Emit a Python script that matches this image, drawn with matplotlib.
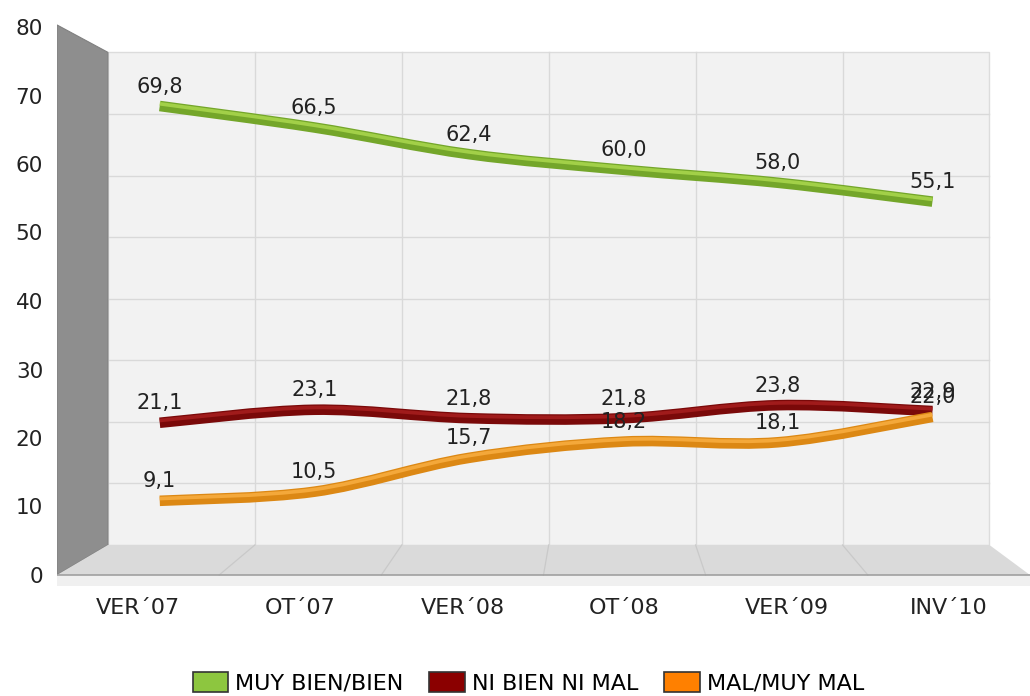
import numpy as np
import matplotlib
matplotlib.use("Agg")
import matplotlib.pyplot as plt
from matplotlib.transforms import Affine2D, ScaledTranslation
from matplotlib.path import Path
from matplotlib.patches import PathPatch, Polygon, Patch, Rectangle

# ---------------- data ----------------
categories = ["VER´07", "OT´07", "VER´08", "OT´08", "VER´09", "INV´10"]
muy_bien = [69.8, 66.5, 62.4, 60.0, 58.0, 55.1]
ni_bien_ni_mal = [21.1, 23.1, 21.8, 21.8, 23.8, 22.9]
mal_muy_mal = [9.1, 10.5, 15.7, 18.2, 18.1, 22.0]
series_names = ["MUY BIEN/BIEN", "NI BIEN NI MAL", "MAL/MUY MAL"]
y_ticks = [0, 10, 20, 30, 40, 50, 60, 70, 80]

plt.rcParams['font.family'] = ['DejaVu Sans']

W, H = 1030, 696
fig = plt.figure(figsize=(W / 100, H / 100), dpi=100)
fig.patch.set_facecolor('white')

# axes geometry (front plane of the 3D box)
x0px, x1px = 57, 1030
ylo, yhi = -3.0, 80.5
ppu = 6.85
zero_py = 575
bottom_py = zero_py - ylo * ppu
top_py = zero_py - yhi * ppu
ax = fig.add_axes([x0px / W, 1 - bottom_py / H, (x1px - x0px) / W, (bottom_py - top_py) / H])
ax.set_xlim(0, 6)
ax.set_ylim(ylo, yhi)
for s in ax.spines.values():
    s.set_visible(False)
ax.set_facecolor('none')

# depth transforms (0 = front, 1 = back wall)
BSX, BSY, BTX, BTY = 0.906, 0.899, 0.314, 4.38


def depth_aff(d):
    return Affine2D().scale(1 - d * (1 - BSX), 1 - d * (1 - BSY)).translate(d * BTX, d * BTY)


back_aff = depth_aff(1.0)
back_tr = back_aff + ax.transData
mid_tr = depth_aff(0.5) + ax.transData

n = len(categories)

# back wall
ax.add_patch(Rectangle((0, 0), n, 80, facecolor='#F2F2F2', edgecolor='#DCDCDC', lw=1,
                       transform=back_tr, zorder=1))
for v in y_ticks[1:-1]:
    ax.plot([0, n], [v, v], color='#D9D9D9', lw=1, transform=back_tr, zorder=1.5)
for u in range(1, n):
    ax.plot([u, u], [0, 80], color='#D9D9D9', lw=1, transform=back_tr, zorder=1.5)

# left wall
bl = back_aff.transform([[0, 0], [0, 80]])
ax.add_patch(Polygon([[0, 0], [0, 80.3], bl[1], bl[0]], closed=True,
                     facecolor='#8E8E8E', edgecolor='#808080', lw=0.8, zorder=2))

# floor
br = back_aff.transform([[n, 0]])[0]
ax.add_patch(Polygon([[0, 0], [n, 0], br, bl[0]], closed=True,
                     facecolor='#DADADA', edgecolor='none', zorder=2))
for u in range(1, n):
    b = back_aff.transform([[u, 0]])[0]
    ax.plot([b[0], u], [b[1], 0], color='#C9C9C9', lw=0.9, zorder=2.2)
ax.add_patch(Rectangle((0, -1.6), n, 1.6, facecolor='#F0F0F0', edgecolor='none', zorder=2))
ax.plot([0, n], [0, 0], color='#A0A0A0', lw=1.2, zorder=2.5)


# ---------------- series ----------------
def smooth_path(xs, ys):
    pts = np.column_stack([xs, ys]).astype(float)
    m = len(pts)
    verts = [pts[0]]
    codes = [Path.MOVETO]
    for i in range(m - 1):
        p0 = pts[max(i - 1, 0)]
        p1 = pts[i]
        p2 = pts[i + 1]
        p3 = pts[min(i + 2, m - 1)]
        c1 = p1 + (p2 - p0) / 6.0
        c2 = p2 - (p3 - p1) / 6.0
        verts += [c1, c2, p2]
        codes += [Path.CURVE4] * 3
    return Path(verts, codes)


series = [muy_bien, ni_bien_ni_mal, mal_muy_mal]
base_cols = ['#74A62A', '#7A0909', '#DC8814']
light_cols = ['#A2D048', '#A01B1B', '#F4A83A']
legend_cols = ['#8DC63F', '#8B0000', '#FF8000']

xs = np.arange(n) + 0.5
up = ScaledTranslation(0, 1.6 / 72, fig.dpi_scale_trans)
for k, vals in enumerate(series):
    p = smooth_path(xs, vals)
    ax.add_patch(PathPatch(p, fill=False, edgecolor=base_cols[k], lw=7.6,
                           capstyle='butt', transform=mid_tr, zorder=5 + k))
    ax.add_patch(PathPatch(p, fill=False, edgecolor=light_cols[k], lw=2.6,
                           capstyle='butt', transform=mid_tr + up, zorder=5 + k))
    for x, v in zip(xs, vals):
        ax.annotate(f"{v:.1f}".replace('.', ','), xy=(x, v), xycoords=mid_tr,
                    xytext=(0, 14), textcoords='offset points', ha='center', va='center',
                    fontsize=15, color='#222222', zorder=10)

# ---------------- axes ticks ----------------
ax.set_yticks(y_ticks)
ax.set_yticklabels([str(t) for t in y_ticks])
ax.tick_params(axis='y', length=0, pad=10, labelsize=15.5, labelcolor='#222222')
ax.set_xticks(xs)
ax.set_xticklabels(categories)
ax.tick_params(axis='x', length=0, pad=2, labelsize=16, labelcolor='#222222')

# ---------------- legend ----------------
handles = [Patch(facecolor=c, edgecolor='#333333', lw=1.2) for c in legend_cols]
fig.legend(handles, series_names, loc='center', bbox_to_anchor=(0.513, 1 - 683 / H),
           ncol=3, frameon=False, fontsize=16, handlelength=1.6, handleheight=1.0,
           handletextpad=0.33, columnspacing=1.15, borderpad=0)

fig.savefig('out.png', dpi=100, facecolor='white')
